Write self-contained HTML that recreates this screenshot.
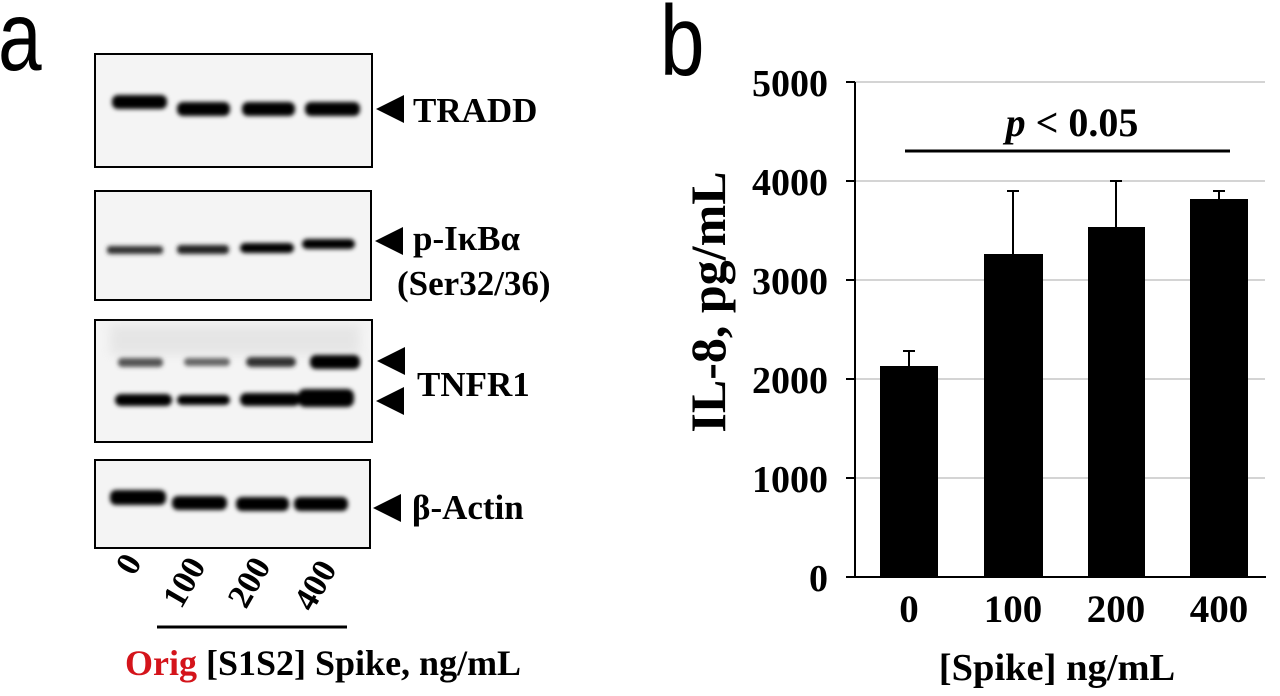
<!DOCTYPE html>
<html><head><style>
body{margin:0;background:#fff;}
svg{display:block;}
text{font-family:"Liberation Serif",serif;font-weight:bold;fill:#000;}
</style></head><body>
<svg width="1280" height="696" viewBox="0 0 1280 696" xmlns="http://www.w3.org/2000/svg">
<defs>
<filter id="b" x="-20%" y="-100%" width="140%" height="300%"><feGaussianBlur stdDeviation="2.2"/></filter>
<filter id="b2" x="-20%" y="-100%" width="140%" height="300%"><feGaussianBlur stdDeviation="5"/></filter>
</defs>
<text transform="translate(-2,70) scale(0.8,1)" style="font-family:'Liberation Sans',sans-serif;font-weight:normal" font-size="98">a</text>
<text transform="translate(660,75) scale(0.8,1)" style="font-family:'Liberation Sans',sans-serif;font-weight:normal" font-size="100">b</text>

<g fill="#f4f4f4" stroke="#000" stroke-width="2">
<rect x="95" y="54" width="277" height="113"/>
<rect x="95" y="191" width="276" height="109"/>
<rect x="95" y="320" width="277" height="122"/>
<rect x="95" y="460" width="275" height="88"/>
</g>
<rect x="110" y="325" width="250" height="30" fill="#ccc" opacity="0.35" filter="url(#b2)"/>
<g filter="url(#b)" fill="#000">
<rect x="112" y="95" width="55" height="14" rx="6"/>
<rect x="177" y="102" width="53" height="14" rx="6"/>
<rect x="242" y="102" width="53" height="14" rx="6"/>
<rect x="305" y="102" width="55" height="14" rx="6"/>
<rect x="107" y="246" width="56" height="8" rx="3" fill="#333"/>
<rect x="177" y="245" width="52" height="9" rx="4" fill="#222"/>
<rect x="240" y="243" width="54" height="10" rx="5"/>
<rect x="302" y="239" width="53" height="10" rx="5"/>
<rect x="118" y="358" width="45" height="9" rx="4" fill="#555"/>
<rect x="184" y="358" width="46" height="8" rx="4" fill="#666"/>
<rect x="246" y="357" width="50" height="10" rx="5" fill="#333"/>
<rect x="310" y="355" width="50" height="14" rx="6"/>
<rect x="115" y="394" width="57" height="12" rx="6"/>
<rect x="177" y="395" width="53" height="10" rx="5"/>
<rect x="240" y="393" width="60" height="13" rx="6"/>
<rect x="298" y="389" width="56" height="18" rx="7"/>
<rect x="110" y="490" width="56" height="15" rx="6"/>
<rect x="172" y="496" width="55" height="14" rx="6"/>
<rect x="236" y="497" width="53" height="14" rx="6"/>
<rect x="294" y="497" width="54" height="14" rx="6"/>
</g>

<g fill="#000">
<polygon points="376,109 404,95 404,123"/>
<polygon points="375,241 403,227 403,255"/>
<polygon points="377,361 405,347 405,375"/>
<polygon points="376,401 404,387 404,415"/>
<polygon points="373,508 401,494 401,522"/>
</g>
<g font-size="35">
<text x="413" y="122">TRADD</text>
<text x="413" y="250">p-IκBα</text>
<text x="397" y="295">(Ser32/36)</text>
<text x="417" y="396">TNFR1</text>
<text x="412" y="519">β-Actin</text>
</g>
<g font-size="34">
<text transform="translate(134,577) rotate(-60)">0</text>
<text transform="translate(181,610) rotate(-60)">100</text>
<text transform="translate(246,610) rotate(-60)">200</text>
<text transform="translate(312,613) rotate(-60)">400</text>
</g>
<line x1="157" y1="627" x2="347" y2="627" stroke="#000" stroke-width="3"/>
<text x="125" y="675" font-size="36"><tspan style="fill:#d4141b">Orig</tspan> [S1S2] Spike, ng/mL</text>

<g stroke="#aaa" stroke-width="1">
<line x1="855" y1="82" x2="1265" y2="82"/>
<line x1="855" y1="181" x2="1265" y2="181"/>
<line x1="855" y1="280" x2="1265" y2="280"/>
<line x1="855" y1="379" x2="1265" y2="379"/>
<line x1="855" y1="478" x2="1265" y2="478"/>
</g>
<g stroke="#000" stroke-width="2">
<line x1="855" y1="82" x2="855" y2="578"/>
<line x1="854" y1="577" x2="1266" y2="577"/>
<line x1="846" y1="82" x2="855" y2="82"/>
<line x1="846" y1="181" x2="855" y2="181"/>
<line x1="846" y1="280" x2="855" y2="280"/>
<line x1="846" y1="379" x2="855" y2="379"/>
<line x1="846" y1="478" x2="855" y2="478"/>
<line x1="846" y1="577" x2="855" y2="577"/>
<line x1="909" y1="366" x2="909" y2="351"/><line x1="903" y1="351" x2="915" y2="351"/>
<line x1="1013" y1="254" x2="1013" y2="191"/><line x1="1007" y1="191" x2="1019" y2="191"/>
<line x1="1116" y1="227" x2="1116" y2="181"/><line x1="1110" y1="181" x2="1122" y2="181"/>
<line x1="1219" y1="199" x2="1219" y2="191"/><line x1="1213" y1="191" x2="1225" y2="191"/>
</g>
<g fill="#000">
<rect x="880" y="366" width="58" height="211"/>
<rect x="984" y="254" width="59" height="323"/>
<rect x="1088" y="227" width="57" height="350"/>
<rect x="1190" y="199" width="58" height="378"/>
</g>
<line x1="905" y1="151" x2="1230" y2="151" stroke="#000" stroke-width="3"/>
<text x="1072" y="136" font-size="40" text-anchor="middle"><tspan font-style="italic">p</tspan> &lt; 0.05</text>
<g font-size="38" text-anchor="end">
<text x="828" y="96">5000</text>
<text x="828" y="195">4000</text>
<text x="828" y="294">3000</text>
<text x="828" y="393">2000</text>
<text x="828" y="492">1000</text>
<text x="828" y="591">0</text>
</g>
<g font-size="39" text-anchor="middle">
<text x="909" y="622">0</text>
<text x="1013" y="622">100</text>
<text x="1116" y="622">200</text>
<text x="1219" y="622">400</text>
<text x="1057" y="680" font-size="38.5">[Spike] ng/mL</text>
</g>
<text transform="translate(725,302) rotate(-90)" font-size="50" text-anchor="middle">IL-8, pg/mL</text>
</svg>
</body></html>
